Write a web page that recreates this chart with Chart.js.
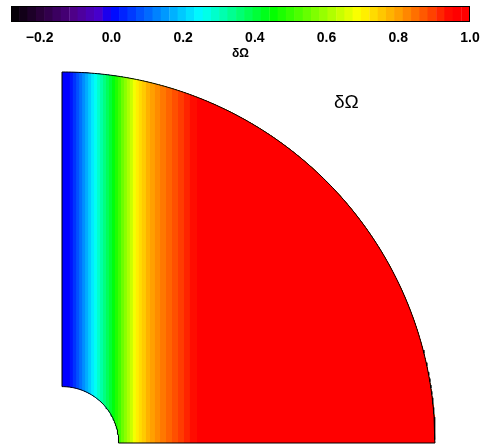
<!DOCTYPE html>
<html>
<head>
<meta charset="utf-8">
<script src="https://cdn.jsdelivr.net/npm/chart.js@4.4.0/dist/chart.umd.min.js"></script>
<style>
  body { margin: 0; background: #fff; }
  #wrap { position: relative; width: 481px; height: 445px; }
  canvas { position: absolute; left: 0; top: 0; }
  #lbl { position: absolute; left: 334px; top: 91px; font: 19px "Liberation Sans", Arial, sans-serif; color: #000; }
</style>
</head>
<body>
<div id="wrap">
  <canvas id="field" width="481" height="445"></canvas>
  <canvas id="cbar" width="481" height="62"></canvas>
  <div id="lbl">δΩ</div>
</div>
<script>
// cylindrical radius (fraction of outer radius) where each contour band starts
var sProfile = [0.000, 0.011, 0.021, 0.029, 0.038, 0.046, 0.054, 0.062, 0.070, 0.078, 0.086, 0.094,
                0.102, 0.110, 0.118, 0.126, 0.134, 0.142, 0.150, 0.158, 0.166, 0.174, 0.182, 0.190,
                0.198, 0.206, 0.214, 0.225, 0.236, 0.249, 0.263, 0.279, 0.295, 0.311, 0.327, 0.343,
                0.362, 0.386, 0.418];
// delta Omega value of each band
var dOmega = [0.00, 0.00, 0.02, 0.05, 0.08, 0.11, 0.14, 0.17, 0.20, 0.23, 0.26, 0.29,
              0.32, 0.35, 0.38, 0.41, 0.44, 0.48, 0.51, 0.55, 0.58, 0.61, 0.64, 0.68,
              0.71, 0.73, 0.75, 0.78, 0.80, 0.82, 0.84, 0.86, 0.88, 0.90, 0.92, 0.94,
              0.96, 0.98, 1.00];
var innerRadius = 0.152;

// colour bar levels and tick values
var cbLevels = [-0.268, -0.245, -0.222, -0.198, -0.175, -0.152, -0.129, -0.105, -0.082, -0.059, -0.036,
                -0.012, 0.011, 0.034, 0.057, 0.081, 0.104, 0.127, 0.150, 0.174, 0.197, 0.220, 0.243,
                0.267, 0.290, 0.313, 0.336, 0.360, 0.383, 0.406, 0.429, 0.453, 0.476, 0.499, 0.522,
                0.546, 0.569, 0.592, 0.615, 0.639, 0.662, 0.685, 0.708, 0.732, 0.755, 0.778, 0.801,
                0.825, 0.848, 0.871, 0.894, 0.918, 0.941, 0.964, 0.988];
var cbTicks = [-0.2, 0.0, 0.2, 0.4, 0.6, 0.8, 1.0];

// rainbow colour table stops
var cmapVals = [-0.28, -0.2, -0.1, -0.03, 0.0, 0.25, 0.45, 0.6, 0.69, 0.8, 0.9, 0.95, 1.0];
var cmapRGB = [[0,0,0], [40,0,55], [80,0,140], [70,0,210], [0,0,255], [0,255,255], [0,255,0],
               [160,255,0], [255,255,0], [255,160,0], [255,60,0], [255,0,0], [255,0,0]];

function colorFor(v) {
    if (v <= cmapVals[0]) return 'rgb(' + cmapRGB[0].join(',') + ')';
    for (var i = 1; i < cmapVals.length; i++) {
        if (v <= cmapVals[i]) {
            var t = (v - cmapVals[i - 1]) / (cmapVals[i] - cmapVals[i - 1]);
            var a = cmapRGB[i - 1], b = cmapRGB[i];
            return 'rgb(' + Math.round(a[0] + t * (b[0] - a[0])) + ',' +
                Math.round(a[1] + t * (b[1] - a[1])) + ',' + Math.round(a[2] + t * (b[2] - a[2])) + ')';
        }
    }
    return 'rgb(' + cmapRGB[cmapRGB.length - 1].join(',') + ')';
}

// region of the quarter annulus with cylindrical radius >= s0
function bandShape(s0) {
    var pts = [];
    var ri = innerRadius;
    var steps = 60;
    if (s0 < ri) {
        var a0 = Math.acos(s0 / ri);
        for (var k = 0; k <= steps; k++) {
            var a = a0 - a0 * k / steps;
            pts.push({x: ri * Math.cos(a), y: ri * Math.sin(a)});
        }
    } else {
        pts.push({x: s0, y: 0});
    }
    pts.push({x: 1, y: 0});
    var b0 = Math.acos(s0);
    for (var k = 0; k <= 120; k++) {
        var b = b0 * k / 120;
        pts.push({x: Math.cos(b), y: Math.sin(b)});
    }
    pts.push(pts[0]);
    return pts;
}

function outline() {
    var pts = [{x: 0, y: innerRadius}, {x: 0, y: 1}];
    for (var k = 0; k <= 180; k++) {
        var a = Math.PI / 2 * (1 - k / 180);
        pts.push({x: Math.cos(a), y: Math.sin(a)});
    }
    for (var k = 0; k <= 60; k++) {
        var a = Math.PI / 2 * k / 60;
        pts.push({x: innerRadius * Math.cos(a), y: innerRadius * Math.sin(a)});
    }
    return pts;
}

var datasets = [];
for (var i = 0; i < sProfile.length; i++) {
    datasets.push({
        data: bandShape(sProfile[i]),
        showLine: true,
        fill: 'shape',
        backgroundColor: colorFor(dOmega[i]),
        borderWidth: 0,
        pointRadius: 0,
        order: sProfile.length - i
    });
}
datasets.push({
    data: outline(),
    showLine: true,
    fill: false,
    borderColor: '#000',
    borderWidth: 1,
    pointRadius: 0,
    order: -1,
    clip: false
});

new Chart(document.getElementById('field'), {
    type: 'scatter',
    data: { datasets: datasets },
    options: {
        responsive: false,
        animation: false,
        events: [],
        layout: { padding: { left: 62, right: 46, top: 72, bottom: 2 } },
        plugins: { legend: { display: false }, tooltip: { enabled: false } },
        scales: {
            x: { type: 'linear', min: 0, max: 1, display: false },
            y: { type: 'linear', min: 0, max: 1, display: false }
        }
    }
});

var framePlugin = {
    id: 'frame',
    afterDatasetsDraw: function(chart) {
        var a = chart.chartArea, ctx = chart.ctx;
        ctx.save();
        ctx.strokeStyle = '#000';
        ctx.lineWidth = 1;
        ctx.strokeRect(a.left + 0.5, a.top + 0.5, a.right - a.left - 1, a.bottom - a.top - 1);
        ctx.restore();
    }
};

new Chart(document.getElementById('cbar'), {
    type: 'bar',
    data: {
        datasets: [{
            data: cbLevels.map(function(v) { return {x: v, y: 1}; }),
            backgroundColor: cbLevels.map(colorFor),
            borderWidth: 0,
            barPercentage: 1,
            categoryPercentage: 1
        }]
    },
    options: {
        responsive: false,
        animation: false,
        events: [],
        layout: { padding: { left: 11, right: 11, top: 6, bottom: 0 } },
        plugins: { legend: { display: false }, tooltip: { enabled: false } },
        scales: {
            x: {
                type: 'linear', min: -0.28, max: 1.0, offset: false,
                grid: { display: false, drawTicks: false },
                border: { display: false },
                afterBuildTicks: function(scale) {
                    scale.ticks = cbTicks.map(function(v) { return {value: v}; });
                },
                afterFit: function(scale) {
                    scale.height = 40;
                    scale.paddingLeft = 0;
                    scale.paddingRight = 0;
                },
                ticks: {
                    autoSkip: false, maxRotation: 0, padding: 8, color: '#000',
                    font: { family: 'Liberation Sans', size: 14, weight: 'bold' },
                    callback: function(v) { return (v < 0 ? '\u2212' : '') + Math.abs(v).toFixed(1); }
                },
                title: {
                    display: true, text: 'δΩ', color: '#000', padding: { top: 0, bottom: 1 },
                    font: { family: 'Liberation Sans', size: 12, weight: 'bold' }
                }
            },
            y: { min: 0, max: 1, display: false }
        }
    },
    plugins: [framePlugin]
});
</script>
</body>
</html>
